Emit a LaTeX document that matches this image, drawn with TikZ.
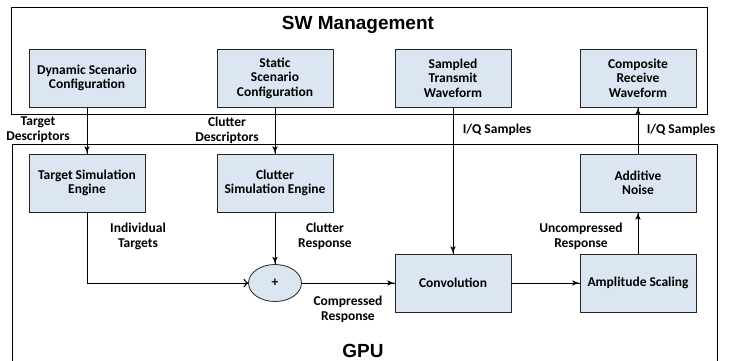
\documentclass[tikz,border=0pt]{standalone}
\usepackage{fontspec}
\setmainfont{Carlito}
\newfontfamily\titlefont{Liberation Sans}
\usepackage{tikz}
\usetikzlibrary{arrows}
\usetikzlibrary{decorations.markings}
\usetikzlibrary{shapes.geometric}
\definecolor{boxfill}{RGB}{220,230,242}
\tikzset{->/.style = {decoration={markings,
                                  mark=at position 1 with {\arrow[scale=1.4]{latex'}}},
                      postaction={decorate}}}
\tikzset{-to/.style = {decoration={markings,
                                   mark=at position 1 with {\arrow[scale=1.8]{to}}},
                       postaction={decorate}}}
\tikzset{blk/.style = {draw = black!85, fill = boxfill, line width = 0.8pt,
                       minimum width = 116, minimum height = 58, inner sep = 2,
                       align = center, font = \fontsize{13.5}{14.5}\selectfont\bfseries}}
\tikzset{lbl/.style = {align = center, inner sep = 0,
                       font = \fontsize{13.5}{15}\selectfont\bfseries}}
\tikzset{frame/.style = {draw, line width = 0.8pt}}

\begin{document}
\begin{tikzpicture}[x=1pt, y=-1pt, line width = 0.8pt]
      \useasboundingbox (0, 0) rectangle (730, 360);
      \draw [frame] (11, 7) rectangle (707, 114);
      \draw [frame] (12, 362) -- (12, 144) -- (717, 144) -- (717, 362);
      \node at (358, 29) [anchor = base, font = \titlefont\fontsize{19}{22}\selectfont\bfseries] (swtitle) {SW Management};
      \node at (363, 357) [anchor = base, font = \titlefont\fontsize{19}{22}\selectfont\bfseries] (gputitle) {GPU};

      \node at (87, 78) [blk] (dyn) {Dynamic Scenario\\Configuration};
      \node at (275, 78) [blk] (stat) {Static\\Scenario\\Configuration};
      \node at (453, 78) [blk] (samp) {Sampled\\Transmit\\Waveform};
      \node at (638, 78) [blk] (comp) {Composite\\Receive\\Waveform};

      \node at (87, 183) [blk] (tsim) {Target Simulation\\Engine};
      \node at (275, 183) [blk] (csim) {Clutter\\Simulation Engine};
      \node at (638, 183) [blk] (noise) {Additive\\Noise};
      \node at (453, 283) [blk] (conv) {Convolution};
      \node at (638, 283) [blk] (amp) {Amplitude Scaling};
      \node at (275, 283) [ellipse, draw = black!85, fill = boxfill,
                           minimum width = 53, minimum height = 37, inner sep = 0,
                           font = \fontsize{13.5}{15}\selectfont\bfseries] (sum) {+};

      \node at (38, 130) [lbl] (tdesc) {Target\\Descriptors};
      \node at (227, 130) [lbl] (cdesc) {Clutter\\Descriptors};
      \node at (497, 130) [lbl] (iqin) {I/Q Samples};
      \node at (681, 130) [lbl] (iqout) {I/Q Samples};
      \node at (138, 236) [lbl] (indiv) {Individual\\Targets};
      \node at (325, 236) [lbl] (cresp) {Clutter\\Response};
      \node at (348, 309) [lbl] (compr) {Compressed\\Response};
      \node at (581, 236) [lbl] (uncompr) {Uncompressed\\Response};

      \draw [->] (dyn) -- (tsim);
      \draw [->] (stat) -- (csim);
      \draw [->] (samp) -- (conv);
      \draw [->] (noise) -- (comp);
      \draw [-to] (tsim) |- (sum);
      \draw [->] (csim) -- (sum);
      \draw [->] (sum) -- (conv);
      \draw [->] (conv) -- (amp);
      \draw [->] (amp) -- (noise);
    \end{tikzpicture}
\end{document}
